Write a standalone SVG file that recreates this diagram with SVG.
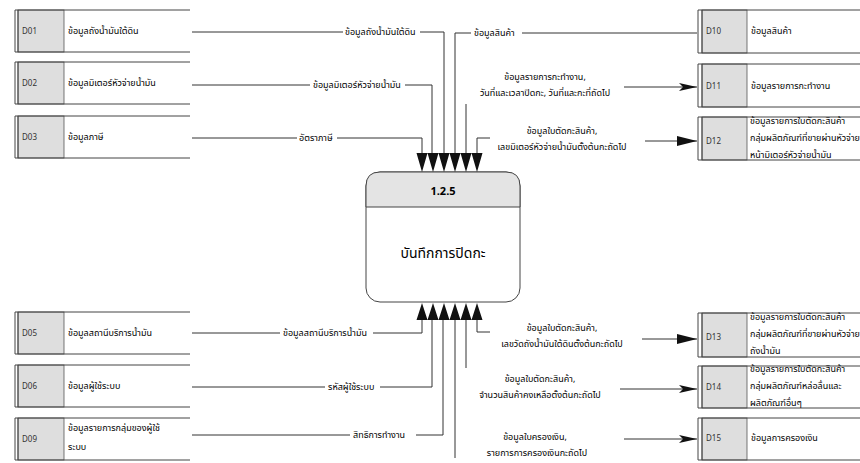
<svg xmlns="http://www.w3.org/2000/svg" width="860" height="463" viewBox="0 0 860 463">
<defs>
<style>
text{font-family:"Noto Sans Thai","Loma","Garuda","Tahoma","DejaVu Sans","Noto Sans",sans-serif;fill:#000;}
.lbl{font-size:9px;}
.id{font-size:8px;fill:#333;}
.st{fill:none;stroke:#444;stroke-width:1;}
.idb{fill:#dedede;stroke:#555;stroke-width:0.8;}
.cn{fill:none;stroke:#333;stroke-width:1;}
.ah{fill:#111;}
</style>
<marker id="big" markerWidth="20" markerHeight="10" refX="20" refY="5" orient="auto" markerUnits="userSpaceOnUse"><path d="M0,0 L20,5 L0,10 Z" fill="#111"/></marker>
<marker id="sm" markerWidth="18" markerHeight="8" refX="18" refY="4" orient="auto" markerUnits="userSpaceOnUse"><path d="M0,0 L18,4 L0,8 L4,4 Z" fill="#111"/></marker>
</defs>
<rect width="860" height="463" fill="#fff"/>

<!-- Left data stores -->
<g id="D01"><rect class="idb" x="18" y="10" width="46" height="42"/><path class="st" d="M15,10 H190 M15,52 H190 M15,10 V52 M18,10 V52"/><text class="id" x="22" y="34">D01</text><text class="lbl" x="68" y="34">ข้อมูลถังน้ำมันใต้ดิน</text></g>
<g id="D02"><rect class="idb" x="18" y="62" width="46" height="42"/><path class="st" d="M15,62 H190 M15,104 H190 M15,62 V104 M18,62 V104"/><text class="id" x="22" y="86">D02</text><text class="lbl" x="68" y="86">ข้อมูลมิเตอร์หัวจ่ายน้ำมัน</text></g>
<g id="D03"><rect class="idb" x="18" y="116" width="46" height="42"/><path class="st" d="M15,116 H190 M15,158 H190 M15,116 V158 M18,116 V158"/><text class="id" x="22" y="140">D03</text><text class="lbl" x="68" y="140">ข้อมูลภาษี</text></g>
<g id="D05"><rect class="idb" x="18" y="312" width="46" height="42"/><path class="st" d="M15,312 H190 M15,354 H190 M15,312 V354 M18,312 V354"/><text class="id" x="22" y="336">D05</text><text class="lbl" x="68" y="336">ข้อมูลสถานีบริการน้ำมัน</text></g>
<g id="D06"><rect class="idb" x="18" y="365" width="46" height="42"/><path class="st" d="M15,365 H190 M15,407 H190 M15,365 V407 M18,365 V407"/><text class="id" x="22" y="389">D06</text><text class="lbl" x="68" y="389">ข้อมูลผู้ใช้ระบบ</text></g>
<g id="D09"><rect class="idb" x="18" y="418" width="46" height="42"/><path class="st" d="M15,418 H190 M15,460 H190 M15,418 V460 M18,418 V460"/><text class="id" x="22" y="442">D09</text><text class="lbl" x="68" y="431">ข้อมูลรายการกลุ่มของผู้ใช้</text><text class="lbl" x="68" y="450">ระบบ</text></g>

<!-- Right data stores -->
<g id="D10"><rect class="idb" x="702" y="10" width="45" height="43"/><path class="st" d="M698,10 H860 M698,53 H860 M698,10 V53 M702,10 V53"/><text class="id" x="706" y="34">D10</text><text class="lbl" x="751" y="34">ข้อมูลสินค้า</text></g>
<g id="D11"><rect class="idb" x="702" y="64" width="45" height="43"/><path class="st" d="M698,64 H860 M698,107 H860 M698,64 V107 M702,64 V107"/><text class="id" x="706" y="89">D11</text><text class="lbl" x="751" y="89">ข้อมูลรายการกะทำงาน</text></g>
<g id="D12"><rect class="idb" x="702" y="117" width="45" height="43"/><path class="st" d="M698,117 H860 M698,160 H860 M698,117 V160 M702,117 V160"/><text class="id" x="706" y="144">D12</text><text class="lbl" x="750" y="124">ข้อมูลรายการใบตัดกะสินค้า</text><text class="lbl" x="750" y="141">กลุ่มผลิตภัณฑ์ที่ขายผ่านหัวจ่าย</text><text class="lbl" x="750" y="158">หน้ามิเตอร์หัวจ่ายน้ำมัน</text></g>
<g id="D13"><rect class="idb" x="702" y="313" width="45" height="44"/><path class="st" d="M698,313 H860 M698,357 H860 M698,313 V357 M702,313 V357"/><text class="id" x="706" y="340">D13</text><text class="lbl" x="750" y="320">ข้อมูลรายการใบตัดกะสินค้า</text><text class="lbl" x="750" y="337">กลุ่มผลิตภัณฑ์ที่ขายผ่านหัวจ่าย</text><text class="lbl" x="750" y="354">ถังน้ำมัน</text></g>
<g id="D14"><rect class="idb" x="702" y="366" width="45" height="42"/><path class="st" d="M698,366 H860 M698,408 H860 M698,366 V408 M702,366 V408"/><text class="id" x="706" y="390">D14</text><text class="lbl" x="750" y="372">ข้อมูลรายการใบตัดกะสินค้า</text><text class="lbl" x="750" y="389">กลุ่มผลิตภัณฑ์หล่อลื่นและ</text><text class="lbl" x="750" y="406">ผลิตภัณฑ์อื่นๆ</text></g>
<g id="D15"><rect class="idb" x="702" y="418" width="45" height="42"/><path class="st" d="M698,418 H860 M698,460 H860 M698,418 V460 M702,418 V460"/><text class="id" x="706" y="441">D15</text><text class="lbl" x="751" y="441">ข้อมูลการครองเงิน</text></g>

<!-- Process -->
<g id="P125">
<rect x="366" y="172" width="154" height="130" rx="14" fill="#fff" stroke="#444" stroke-width="1"/>
<path d="M366,207 V186 Q366,172 380,172 H506 Q520,172 520,186 V207 Z" fill="#e4e4e4" stroke="#444" stroke-width="1"/>
<text x="443" y="195" text-anchor="middle" style="font-size:11px;font-weight:bold">1.2.5</text>
<text x="443" y="258" text-anchor="middle" style="font-size:14px">บันทึกการปิดกะ</text>
</g>

<!-- Connectors -->
<g id="connectors">
<path class="cn" d="M192,32 H343 M420,32 H444 V153"/>
<text class="lbl" x="345" y="35">ข้อมูลถังน้ำมันใต้ดิน</text>
<path class="cn" d="M192,85 H310 M405,85 H432 V153"/>
<text class="lbl" x="313" y="88">ข้อมูลมิเตอร์หัวจ่ายน้ำมัน</text>
<path class="cn" d="M192,138 H297 M337,138 H422 V153"/>
<text class="lbl" x="299" y="141">อัตราภาษี</text>
<path class="cn" d="M455,153 V33 H471 M522,33 H697"/>
<text class="lbl" x="474" y="36">ข้อมูลสินค้า</text>
<path class="cn" d="M466,153 V104"/>
<text class="lbl" x="545" y="80" text-anchor="middle">ข้อมูลรายการกะทำงาน,</text>
<text class="lbl" x="545" y="96" text-anchor="middle">วันที่และเวลาปิดกะ, วันที่และกะที่ถัดไป</text>
<path class="cn" d="M624,87 H697" marker-end="url(#sm)"/>
<path class="cn" d="M477,153 V138 H490"/>
<text class="lbl" x="562" y="134" text-anchor="middle">ข้อมูลใบตัดกะสินค้า,</text>
<text class="lbl" x="562" y="150" text-anchor="middle">เลขมิเตอร์หัวจ่ายน้ำมันตั้งต้นกะถัดไป</text>
<path class="cn" d="M645,141 H697" marker-end="url(#big)"/>

<path class="cn" d="M192,333 H280 M373,333 H422 V320"/>
<text class="lbl" x="283" y="336">ข้อมูลสถานีบริการน้ำมัน</text>
<path class="cn" d="M192,387 H325 M380,387 H432 V320"/>
<text class="lbl" x="328" y="390">รหัสผู้ใช้ระบบ</text>
<path class="cn" d="M192,435 H350 M416,435 H443 V320"/>
<text class="lbl" x="353" y="438">สิทธิการทำงาน</text>
<path class="cn" d="M477,320 V332 H490"/>
<text class="lbl" x="562" y="331" text-anchor="middle">ข้อมูลใบตัดกะสินค้า,</text>
<text class="lbl" x="562" y="347" text-anchor="middle">เลขวัดถังน้ำมันใต้ดินตั้งต้นกะถัดไป</text>
<path class="cn" d="M642,339 H697" marker-end="url(#big)"/>
<path class="cn" d="M466,320 V368"/>
<text class="lbl" x="540" y="382" text-anchor="middle">ข้อมูลใบตัดกะสินค้า,</text>
<text class="lbl" x="540" y="398" text-anchor="middle">จำนวนสินค้าคงเหลือตั้งต้นกะถัดไป</text>
<path class="cn" d="M620,389 H697" marker-end="url(#sm)"/>
<path class="cn" d="M455,320 V458"/>
<text class="lbl" x="535" y="440" text-anchor="middle">ข้อมูลใบครองเงิน,</text>
<text class="lbl" x="537" y="456" text-anchor="middle">รายการการครองเงินกะถัดไป</text>
<path class="cn" d="M624,439 H697" marker-end="url(#sm)"/>

<g class="ah">
<path d="M416.5,153 H427.5 L422,172 Z M427.5,153 H438.5 L433,172 Z M438.5,153 H449.5 L444,172 Z M449.5,153 H460.5 L455,172 Z M460.5,153 H471.5 L466,172 Z M471.5,153 H482.5 L477,172 Z"/>
<path d="M416.5,320 H427.5 L422,303 Z M427.5,320 H438.5 L433,303 Z M438.5,320 H449.5 L444,303 Z M449.5,320 H460.5 L455,303 Z M460.5,320 H471.5 L466,303 Z M471.5,320 H482.5 L477,303 Z"/>
</g>
</g>
</svg>
